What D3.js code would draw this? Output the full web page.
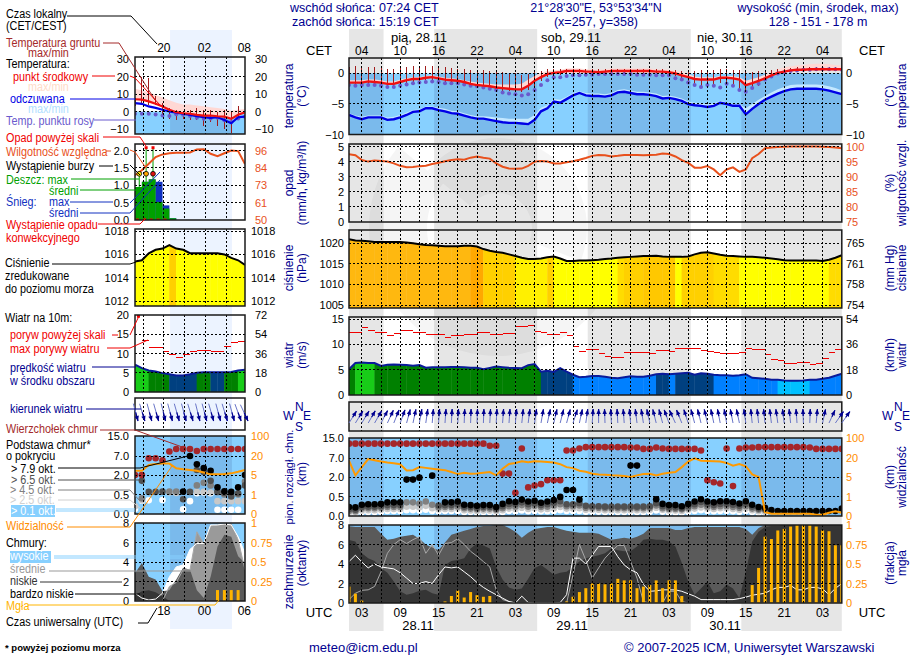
<!DOCTYPE html>
<html><head><meta charset="utf-8">
<script src="https://cdnjs.cloudflare.com/ajax/libs/d3/7.8.5/d3.min.js"></script>
<style>html,body{margin:0;background:#fff}svg{display:block}text{font-family:"Liberation Sans",Arial,sans-serif}</style>
</head><body><svg id="c" width="910" height="660"></svg>
<script>
// ===== meteogram hours (UTC hours counted from 00 on 28.11)
const hoursMain = d3.range(1,79);
const nightSpans = [[1,6.4],[14.3,30.4],[38.3,54.4],[62.3,78]];
const hourTicksMain = [3,9,15,21,27,33,39,45,51,57,63,69,75];
const cetLabels = ["04","10","16","22","04","10","16","22","04","10","16","22","04"];
const utcLabels = ["03","09","15","21","03","09","15","21","03","09","15","21","03"];
const gridHoursMain = d3.range(3,78,3);
const dayLabels = [["pią, 28.11",419],["sob, 29.11",571],["nie, 30.11",725]];
const utcDays = [["28.11",418],["29.11",572],["30.11",725]];

// ===== main series
const tempMid=[-1.5,-1.5,-1.5,-1.3,-1.4,-1.5,-1.7,-1.7,-1.4,-1.1,-.9,-.9,-.7,-.6,-.8,-1,-1.1,-1.2,-1.4,-1.7,-1.9,-2,-2.1,-2.3,-2.4,-2.5,-2.6,-2.6,-2,-1.2,-.6,-.1,.1,.2,.4,.4,.4,.3,.3,.2,.3,.4,.4,.4,.4,.4,.4,.4,.3,.3,.2,0,-.3,-.6,-.9,-1,-1,-1,-.7,-.7,-.8,-1,-1.9,-1.6,-1.2,-.8,-.3,.1,.3,.5,.6,.6,.7,.7,.7,.7,.7,.7];
const tempHi=[-1.1,-1.1,-1.1,-1,-1,-1.1,-1.3,-1.3,-1,-.8,-.6,-.6,-.4,-.3,-.5,-.7,-.8,-.9,-1.1,-1.3,-1.5,-1.6,-1.7,-1.8,-1.8,-1.8,-1.8,-1.7,-1,-.4,.1,.4,.5,.6,.8,.8,.8,.7,.7,.6,.7,.8,.8,.8,.8,.8,.8,.8,.7,.7,.6,.4,.2,-.1,-.5,-.6,-.6,-.6,-.4,-.4,-.4,-.6,-1.2,-.9,-.6,-.2,.3,.7,1,1.2,1.3,1.4,1.5,1.6,1.6,1.5,1.4,1.3];
const feel=[-6.8,-7.2,-7.5,-7.2,-7.2,-7.2,-7.6,-7.5,-7.2,-6.8,-6.3,-6.2,-5.7,-5.7,-6,-6.2,-6.5,-6.6,-6.9,-7.2,-7.4,-7.4,-7.6,-7.8,-8,-8.1,-8.1,-8.2,-8.3,-7.6,-6.2,-5.7,-4.6,-4.8,-4.2,-3.6,-3.2,-3.6,-3.7,-3.7,-3.8,-3.6,-3.1,-3,-3.2,-3.4,-3.4,-3.5,-3.7,-4.1,-4,-4.2,-4.5,-5,-5.2,-5.3,-5.5,-5.3,-4.8,-5,-5.3,-5.3,-6.7,-5.8,-5,-4.3,-3.8,-3.3,-2.9,-2.6,-2.5,-2.5,-2.5,-2.5,-2.6,-2.8,-3.1,-3.4];
const feelHi=[-6.5,-6.9,-7.1,-6.9,-6.9,-6.9,-7.2,-7.1,-6.8,-6.4,-6,-5.9,-5.4,-5.4,-5.6,-5.8,-6.1,-6.2,-6.5,-6.8,-7,-7,-7.1,-7.2,-7.3,-7.4,-7.4,-7.4,-7.4,-6.8,-5.6,-5.2,-4.2,-4.3,-3.8,-3.2,-2.9,-3.2,-3.3,-3.3,-3.4,-3.2,-2.7,-2.6,-2.8,-3,-3,-3.1,-3.3,-3.7,-3.6,-3.8,-4.1,-4.6,-4.8,-4.9,-5.1,-4.9,-4.5,-4.7,-5,-5,-5.7,-5,-4.3,-3.7,-3.1,-2.6,-2.2,-1.9,-1.8,-1.8,-1.8,-1.8,-1.9,-2.1,-2.4,-2.8];
const dew=[-1.9,-2,-1.9,-1.9,-1.9,-2,-2.2,-2.2,-2,-1.8,-1.6,-1.5,-1.4,-1.3,-1.4,-1.6,-1.6,-1.6,-1.8,-2,-2.1,-2.3,-2.5,-2.7,-3.1,-3.3,-3.4,-3.6,-3.4,-2.7,-1.9,-1.1,-.6,-.6,-.4,-.3,-.3,-.2,-.2,-.1,-.1,-.1,-.1,-.1,-.1,-.2,-.2,-.2,-.3,-.3,-.3,-.8,-1,-1.5,-1.9,-2.2,-1.9,-2,-2.3,-1.7,-2,-2.7,-3,-2.4,-1.7,-1,-.5,0,.2,.4,.5,.6,.6,.7,.7,.7,.7,.6];
const groundMax=[1.1,1.2,1.1,1.1,1,1,.8,.8,.9,1.1,1.2,1.1,1.2,1.2,1.1,1.1,.9,.8,.8,.6,.5,.5,.4,.3,.3,.1,0,-.3,-.1,.2,.4,.8,.7,.7,.7,.8,.8,.8,.8,.7,.8,.8,.8,.8,.8,.8,.8,.8,.7,.7,.6,.5,.4,.4,.4,.5,.6,.6,.7,.7,.6,.5,.2,.3,.4,.5,.6,.7,.8,.9,1,1,1,1,1,1,1,1];
const groundMin=[-1.9,-2,-2,-1.8,-1.8,-1.9,-2.1,-2.1,-1.9,-1.6,-1.4,-1.3,-1.1,-1,-1.2,-1.4,-1.5,-1.6,-1.8,-2.1,-2.3,-2.4,-2.5,-2.7,-2.8,-2.9,-3,-3.1,-2.7,-2,-1.3,-.6,-.3,-.2,0,0,0,0,0,0,0,0,0,0,0,0,0,0,0,-.1,-.2,-.4,-.8,-1.2,-1.7,-2,-1.9,-1.9,-1.5,-1.5,-1.9,-2.9,-3,-2.6,-2,-1.3,-.7,-.2,.1,.3,.4,.4,.5,.5,.5,.5,.5,.5];
const humidity=[97.4,97.1,95.5,95,95.4,95.2,95,94.4,93.6,93.1,93.2,93.5,93.6,94.2,94.6,95.1,95.5,95.8,95.6,96.3,96.7,96.3,96,94.4,93.3,92.7,92.6,92.7,93.6,95,95.2,95,94.4,94.4,94.8,95.1,95.6,96.2,96.9,97.2,97.1,96.7,96.9,97.2,97.2,97.2,97.1,97.2,97.3,97.7,97.5,96.7,95.5,94.6,93,93,93.5,92.4,90.5,92.4,93.1,91.6,92.4,96.1,97.5,99.4,99.7,99.8,99.9,100,100,100,100,100,99.9,99.8,99.7,99.4];
const pressure=[1021,1020.7,1020.6,1020.5,1020.3,1020.3,1020.3,1020.3,1020.3,1020.2,1020,1019.75,1019.6,1019.5,1019.4,1019.3,1019.3,1019.3,1019.4,1019.4,1019.2,1018.6,1018.2,1017.9,1017.7,1017.3,1016.9,1016.5,1016.2,1016.2,1016.3,1016.6,1016.8,1016.3,1015.7,1015.7,1015.8,1015.8,1015.9,1016,1016.2,1016.3,1016.5,1016.6,1016.7,1016.8,1016.9,1016.9,1017,1016.8,1016.7,1016.7,1016.7,1016.8,1017.3,1017.7,1017.8,1017.5,1017.2,1017,1016.9,1016.8,1016.7,1016.7,1016.6,1016.5,1016.3,1016.1,1015.9,1015.8,1015.8,1015.8,1015.8,1015.8,1015.7,1016,1016.5,1017.1];
const pressClass=[5,5,5,5,5,5,5,5,5,5,5,5,5,5,5,5,5,5,5,6,6,3,3,3,3,3,1,1,1,1,1,3,0,0,0,0,0,0,0,0,0,0,2,3,3,3,4,4,4,4,4,0,3,3,3,3,3,2,2,2,2,0,0,0,0,0,0,0,0,0,0,0,0,0,0,2,2,2];
const wind=[5.1,6.3,6.4,6.3,6.3,5.75,5.95,6,5.95,5.9,5.75,5.9,5.4,5.5,5.5,5.5,5.55,5.55,5.5,5.4,5.4,5.1,5.35,5.6,5.5,5.4,5.35,5.3,5.9,6.1,4.6,4.8,4.55,5.3,4.6,4,3.5,3.6,3.75,3.75,3.6,3.4,3.3,3.5,3.7,3.6,3.6,3.8,4.1,4.2,4.1,4.2,4.3,4.4,4,4.3,4.2,4,3.9,3.9,3.8,3.9,4.1,3.4,3.3,3.2,3,3,2.85,2.8,2.8,2.85,3,3,3.2,3.4,3.8,4.2];
const windClass=[1,2,2,2,1,1,1,1,1,1,1,1,1,1,1,1,1,1,1,1,1,1,1,1,1,1,1,1,1,1,0,0,0,0,0,3,3,3,3,3,3,3,3,3,3,3,3,3,0,0,3,0,0,0,0,0,0,3,3,3,3,3,3,3,3,3,3,4,4,4,4,4,3,3,3,3,3,3];
const gust=[12.4,12.4,13.4,12.7,12.4,12.4,11.8,12.2,12.7,12.7,12.4,12.4,12,12,12,11.4,11.8,11.8,12,12,12.4,12.4,11.9,11.9,12.2,12.2,13.6,13.6,13.8,12.6,12.4,11.9,11.9,12.4,11.7,9.5,8.5,8.9,8.9,8.1,7.6,7.5,7.5,8.3,8.3,8.3,8.3,8.1,8.7,8.7,8.5,9.25,9.25,9.1,9.1,8.8,8.5,8.3,8.1,8.1,8.2,8.3,9.25,8.9,8.9,7.9,7.1,6.8,6.3,6.3,6.5,6.5,6.1,6.3,7.3,8.3,8.9,8.9];
const windDir=[32,32,31,30,30,28,25,22,20,15,12,10,8,5,4,4,3,3,2,2,2,2,3,3,4,4,5,6,7,8,10,12,13,14,15,18,12,8,4,0,-2,-3,-3,-4,-5,-7,-9,-12,-14,-15,-20,-25,-22,-18,-15,-14,-13,-12,-11,-10,-11,-12,-8,-6,-6,-6,-7,-8,-7,-6,-4,-2,2,5,12,25,35,35];
const cloudTop=[12.75,12.75,12.75,12.75,12.75,12.75,12.75,12.75,12.75,12.75,12.75,12.75,12.75,12.75,12.75,12.75,12.75,12.75,12.75,12.75,12.75,12.75,11.9,11.9,2.9,2.9,.78,10.8,1.2,1.35,1.45,1.75,1.75,1.75,10,10,10.8,11.35,11.35,11.35,11.35,11.35,11.35,11.35,11.2,11.2,10.65,10.65,11.2,10.8,10.65,10.65,10.65,10.65,10.65,10,1.75,1.6,1.5,10.8,1.3,10.8,11.2,11.2,11.35,11.35,11.35,11.35,11.35,11.35,11.35,11.35,11.2,10.65,10.65,10.65,10.65,10.65];
const base79=[.23,.22,.29,.3,.3,.31,.35,.35,.35,1.8,1.8,1.95,null,2.35,null,.35,.35,.37,.29,.28,.26,.28,.28,.23,.31,.38,.36,.42,.37,.39,.34,.37,.41,.49,1,1,.42,null,null,null,null,null,null,null,5,5,null,null,.43,.31,.28,.28,.25,.31,.37,.43,.37,.35,.38,.38,.36,.32,.38,.29,.23,.21,.15,.13,.13,.13,.13,.13,.13,.13,.13,.13,.13,.19];
const base65=[.17,.16,.23,.24,.24,.25,.28,.28,.28,null,null,null,null,null,.27,.28,.28,.3,.24,.23,.21,.23,.23,.19,.25,.31,.3,.35,.3,.32,.28,.3,.34,.38,.3,.3,.33,.26,.25,.25,.24,.24,.24,.24,.24,.24,.24,.25,.33,.25,.22,.22,.2,.25,.3,.36,.3,.28,.31,.31,.29,.26,.31,.24,.19,.18,null,null,null,null,null,null,null,null,null,null,null,null];
const base45=[.13,.12,.19,.2,.2,.21,.23,.23,.23,.35,.35,.32,.37,.29,.22,.23,.23,.24,.2,.19,.17,.19,.19,.16,.2,.25,.24,.28,.24,.26,.23,.24,.27,.3,.25,.25,.27,.21,.21,.21,.2,.2,.2,.2,.2,.2,.2,.21,.27,.2,.18,.18,.17,.2,.25,.29,.24,.23,.25,.25,.23,.21,.25,.19,.16,.15,null,null,null,null,null,null,null,null,null,null,null,null];
const base25=[.09,.09,.14,.15,.15,.16,.18,.18,.18,.24,.24,.22,.26,.2,.17,.18,.18,.19,.15,.14,.13,.14,.14,.12,.15,.19,.18,.21,.18,.2,.17,.18,.2,.23,.19,.19,.2,.16,.16,.16,.15,.15,.15,.15,.15,.15,.15,.16,.21,.16,.14,.14,.13,.16,.19,.22,.19,.18,.2,.2,.18,.16,.19,.15,.12,.11,null,null,null,null,null,null,null,null,null,null,null,null];
const base01=[.05,.05,.1,.1,.1,.11,.13,.13,.13,.15,.15,.14,.16,.13,.12,.13,.13,.13,.1,.1,.09,.1,.1,.08,.1,.13,.12,.14,.12,.13,.12,.12,.13,.15,.13,.13,.13,.11,.11,.11,.1,.1,.1,.1,.1,.1,.1,.11,.14,.11,.09,.09,.09,.11,.13,.15,.13,.12,.13,.13,.12,.11,.13,.1,.08,.08,null,null,null,null,null,null,null,null,null,null,null,null];
const visibility=[17.9,6.3,12.8,19.2,18.2,17.2,16.4,15.9,15.1,10.2,10.4,12.8,12.2,11.5,10.9,10.4,8.9,7.3,8.4,7.6,7.8,8.4,8.9,6.3,11.5,15.3,16.1,17.4,16.6,17.4,17.2,16.9,16.4,15.1,12.8,12,9.9,9.1,7.6,7,6.8,6.3,6.1,5.8,5,6.3,7.3,7.6,6.3,7.6,8.4,8.9,12.8,17.2,19.7,17.9,17.7,17.4,17.2,16.1,14,15.3,13.5,7,5,.2,.12,.12,.12,.12,.12,.12,.12,.07,.07,.17,.24,.17];
const cloudHigh=[4.25,4.9,4.2,3.6,4,3.7,3.6,3.5,3.1,2.55,2,2,2.2,2,2.9,3.7,3.6,3.7,3.2,2.7,2.1,1.6,1.2,.85,.5,.15,0,.7,.05,0,0,0,0,.05,.85,4.6,4.6,4,4.9,5.8,5.8,5.8,4.75,3.9,3.4,3.1,1.9,1.2,1.25,1.35,1.35,1.35,1.2,.95,.7,.35,.35,.35,.35,.35,.35,.45,.6,.8,.9,1,1.35,1.6,1.6,1.8,1.35,1.35,1.6,1.6,1.45,.85,1.5,2];
const cloudMid=[.35,1,1.3,1.35,1.7,3.2,5.1,6,6.5,6.1,6.5,6.8,5.1,6,4.9,6.1,6.2,6.6,6,5.3,4.8,4.25,3.7,1.35,.35,.15,0,0,0,0,0,0,0,0,0,2.9,6,4.4,2.55,3.6,4.6,5.3,5.9,5.9,4.25,2.55,.15,0,0,0,1.2,1.2,.15,0,0,0,0,0,0,0,0,0,0,0,0,0,0,0,0,0,0,0,0,0,0,0,0,0];
const cloudLow=[7.86,7.8,7.8,7.8,7.8,7.1,6.5,6.6,6.8,6.9,7,6.6,6,5.7,5.4,6.2,7,7.2,7.4,7.6,7.8,7.9,7.9,8,8,7.7,7.3,6.7,7.2,7.6,7.7,7.8,7.8,7.6,7.4,7.3,7.2,7.2,7.2,7.1,6.8,6.5,6.6,6.7,6.6,6.8,7.1,7.7,7.7,7.7,7.7,7.5,7.5,7.7,7.8,7.8,7.8,7.8,7.8,7.8,7.8,7.8,7.6,7,7.7,8,8,8,8,8,8,8,8,8,8,8,8,8];
const cloudVeryLow=[6.46,6.3,5.1,4.6,4.3,3.6,3.1,2.2,1.2,.85,1,1.25,1.35,1,.85,3.9,4.3,4.4,4.6,5.6,6.1,5.9,5.6,3.7,2.4,1.6,1.35,1.5,2.5,3.6,3.9,3.4,2.9,3.1,3.2,3.7,4.25,4.6,4.75,4.9,5.1,5.6,5.4,5.3,5.3,5.8,6.5,6.6,6.5,6.5,6.3,5.8,4.1,2.2,.85,1.5,2.2,1,1.2,1.9,1.5,.5,3.2,6.3,7.3,7.8,7.9,7.9,8,8,8,8,8,8,8,8,8,8];
const fog=[.21,.12,.03,0,0,0,0,0,0,0,0,0,0,0,0,.02,.09,.16,.07,.14,.1,.08,.09,0,0,0,0,0,0,0,0,0,0,0,.02,.08,.14,.19,.25,.25,.24,.25,.31,.29,.29,.19,.21,.23,.29,.19,.29,.29,.09,0,0,0,0,0,0,0,0,0,0,.23,.45,.85,.82,.93,.95,.98,1,1,1,.98,.93,.92,.74,.74];

// ===== legend (left) mini series
const hoursLeg = d3.range(0,17);
const legGrid = [1.17,4.2,7.2,10.25,13.3];
const legLocal = [["20",4.2],["02",10.1],["08",15.9]];
const legUtc = [["18",4.2],["00",10.1],["06",15.9]];
const tempMidL=[7,6.8,5.8,4.4,2.9,1,-.4,-1,-1.3,-1.9,-2.3,-2.3,-2.7,-2.9,-4.2,-1.9,-.4];
const tempHiL=[13,12,11,9.5,8,6.5,5,4,4,3.5,3,2.5,2,1.5,.5,1,1.5];
const feelL=[4.8,4.4,2.9,2.1,1,0,-.6,-1.3,-1.9,-2.7,-3.3,-3.6,-3.3,-4.8,-6.7,-3.3,-2.9];
const dewL=[-1.3,-1.3,-1.3,-1.7,-2.3,-2.5,-1.5,-1.8,-2.5,-3.5,-4.2,-4,-3.5,-5,-6,-4,-3];
const groundMaxL=[8,20,19,9,5,2,1,0,1,2,1,1,0,1,0,3,3];
const groundMinL=[3,5,4,4,-2,-4,-5,-4,-5,-5,-8,-6,-8,-10,-12,-5,-3];
const humidityL=[79.6,82.9,87.2,91.6,93.4,94.2,94.5,94.5,94.7,96.7,96.9,93.8,92.3,94.2,96,95.6,87];
const rainL=[.95,1.1,1.17,.52,.33,.05,0,0,0,0,0,0,0,0,0,0,0];
const snowL=[0,0,0,1.1,.42,0,0,0,0,0,0,0,0,0,0,0,0];
const rainPeakL=[1.29,2.08,2.08];
const stormL=[1.33,1.33,1.33];
const stormColors=["#ffe600","#ffa500","#e01010"];
const convectiveL=[1,1,1,1,1,0,0,0,0,0,0,0,0,0,0,0];
const pressureL=[1015.4,1015.5,1016.1,1016.4,1016.5,1016.8,1016.5,1016.4,1016.1,1016.1,1016.1,1016.1,1016.1,1016,1015.7,1015.5,1015.1];
const pressClassL=[0,0,0,0,0,3,0,0,0,0,0,0,0,0,0,0,0];
const windL=[7.1,6.2,5.6,5.3,4.9,4.6,4.3,4.3,4.6,5,5.1,5.1,5.1,5.1,5.2,5.6,5.8];
const windClassL=[2,2,1,1,1,0,0,0,0,1,1,0,0,1,1,2,2];
const gustL=[19.8,13.5,11.6,11.6,10.5,9.7,8.9,9.8,10.5,10.9,10.9,10.6,10.6,11.7,12.8,13,13];
const windDirL=[165,163,165,164,166,165,164,165,163,166,165,164,165,163,165,160,155];
const cloudTopL=[2,2,6.4,6.4,5.9,8.8,9.8,9.8,9.8,9,9.8,9.8,9.8,9.8,9.8,9.8,9.8];
const base79L=[null,null,null,null,null,null,null,.72,7,4.8,3.8,3.1,1.05,.75,.7,1.05,2];
const base65L=[null,1.55,.7,.7,.72,null,null,.38,.7,3.3,2.8,1.55,.72,.62,.45,.6,1.2];
const base45L=[null,.4,null,null,null,.72,.72,null,null,1.2,1.4,1.2,.68,.5,.5,.5,1.5];
const base25L=[.2,.35,null,null,null,.65,.62,null,null,.7,.7,.65,.33,.33,.33,.33,.33];
const base01L=[.13,.34,.35,null,.36,null,null,.12,.33,.6,.65,.6,.11,.11,.11,.11,null];
const visibilityL=[8.4,8.4,12.9,13.7,14,14,10.3,9.5,9,8.4,7,5.5,5.5,5.7,6.3,7.5,9];
const cloudHighL=[.8,.3,.1,.2,.8,2.5,3.5,3.7,5.3,5.9,5.9,7.8,7.8,7.9,7.8,6.6,4.9];
const cloudMidL=[0,0,0,0,0,1.5,1.9,3.2,3.2,7.1,5.9,7.7,7.8,7.9,7.9,6.3,3.2];
const cloudLowL=[2.85,3.9,2.5,2.2,1,1.1,2.2,3.4,3.2,1.1,.3,2.5,5.6,6.8,6.6,4.6,3.9];
const cloudVeryLowL=[.6,1,1.1,.9,.5,0,0,0,0,0,0,0,0,0,0,0,0];
const fogL=[0,0,0,0,0,0,0,0,0,0,0,0,.14,.14,.14,.14,0];

// ===== tick label lists
const tempTicksM=[0,-5,-10], tempTicksL=[30,20,10,0,-10];
const rainTicksM=[0,1,2,3,4,5], rhTicksM=[100,95,90,85,80,75];
const rainTicksL=["0.0","0.5","1.0","1.5","2.0"], rhTicksL=[[96,2],[84,1.5],[73,1],[61,.5],[50,0]];
const pressTicksM=[1020,1015,1010,1005], mmHgTicks=[[765,1020],[761,1015],[758,1010],[754,1005]];
const pressTicksL=[1018,1016,1014,1012];
const windTicksM=[0,5,10,15], kmhTicksM=[[54,15],[36,10],[18,5],[0,0]];
const windTicksL=[0,5,10,15,20], kmhTicksL=[[72,20],[54,15],[36,10],[18,5],[0,0]];
const heightTicks=[0,.5,2,7,15], visTicks=[0,1,5,20,100];
const oktaTicksM=[0,2,4,6,8], fogTicks=[0,.25,.5,.75,1];

// ===== palettes
const NAVY="#000090", ORANGE="#ff8c00", RH="#e8501c", BROWN="#a52a2a";
const DAYBLUE="#87d0ff", NIGHTBLUE="#7abaec";
const pressColors=["#ffff00","#fff000","#ffdc00","#ffd000","#ffc800","#ffb80f","#ffa800"];
const windColors=["#004080","#008000","#18cc18","#0080ff","#00c0ff"];
const baseColors=["#000000","#505050","#808080","#c8c8c8","#ffffff"];

const svg=d3.select("#c");
let clipId=0;
const bg=svg.append("g");

// shaded background bands
const xM=d3.scaleLinear().domain([1,78]).range([349,841.8]);
const xL=d3.scaleLinear().domain([0,16]).range([135,245]);
nightSpans.forEach(s=>bg.append("rect").attr("x",xM(s[0])).attr("y",29).attr("width",xM(s[1])-xM(s[0])).attr("height",602).attr("fill","#e6e6e6"));
bg.append("rect").attr("x",xL(5.1)).attr("y",30).attr("width",xL(14.1)-xL(5.1)).attr("height",599).attr("fill","#ecf3ff");
// faint logo watermark
const arcGen=d3.arc();
bg.append("path").attr("transform","translate(497,228)").attr("fill","#000").attr("opacity",.04)
  .attr("d",arcGen({innerRadius:70,outerRadius:128,startAngle:Math.PI*.72,endAngle:Math.PI*1.72}));
bg.append("path").attr("transform","translate(497,228)").attr("fill","#000").attr("opacity",.04)
  .attr("d",arcGen({innerRadius:35,outerRadius:90,startAngle:-Math.PI*.28,endAngle:Math.PI*.62}));

function panel(x,top,bottom){
  const id="p"+(clipId++),x0=x.range()[0],x1=x.range()[1];
  svg.append("clipPath").attr("id",id).append("rect").attr("x",x0).attr("y",top).attr("width",x1-x0).attr("height",bottom-top);
  return {g:svg.append("g").attr("clip-path",`url(#${id})`),top,bottom,x0,x1};
}
function frame(p,x,gridX,y,gridY){
  const g=svg.append("g").attr("fill","none");
  const dash=g.append("g").attr("stroke","#000").attr("stroke-width",1).attr("stroke-dasharray","2,2").attr("shape-rendering","crispEdges");
  gridX.forEach(v=>dash.append("line").attr("x1",x(v)).attr("x2",x(v)).attr("y1",p.top).attr("y2",p.bottom));
  if(y)gridY.forEach(v=>dash.append("line").attr("x1",p.x0).attr("x2",p.x1).attr("y1",y(v)).attr("y2",y(v)));
  g.append("rect").attr("x",p.x0).attr("y",p.top).attr("width",p.x1-p.x0).attr("height",p.bottom-p.top).attr("stroke","#1a1a1a").attr("stroke-width",1.5);
}
function axis(scale,values,fmt,side,x,color,size){
  const gen=(side==="l"?d3.axisLeft(scale):d3.axisRight(scale)).tickValues(values).tickSize(0).tickPadding(0).tickFormat(fmt);
  const g=svg.append("g").attr("transform",`translate(${x},0)`).call(gen);
  g.select(".domain").remove();
  g.selectAll("text").attr("fill",color||"#000").attr("font-size",size||11).attr("font-family",'"Liberation Sans",Arial,sans-serif');
}
function pairAxis(scale,pairs,side,x,color,size){
  const m=new Map(pairs.map(p=>[p[1],p[0]]));
  axis(scale,pairs.map(p=>p[1]),v=>m.get(v),side,x,color,size);
}
const line=(x,y,c)=>d3.line().defined(d=>d[1]!=null).x(d=>x(d[0])).y(d=>y(d[1])).curve(c||d3.curveLinear);
const zip=(h,a)=>h.map((t,i)=>[t,a[i]]);

function shadeBlue(p,x,y0,nights){
  p.g.append("rect").attr("x",p.x0).attr("y",y0).attr("width",p.x1-p.x0).attr("height",p.bottom-y0).attr("fill",DAYBLUE);
  nights.forEach(s=>p.g.append("rect").attr("x",x(s[0])).attr("y",y0).attr("width",x(s[1])-x(s[0])).attr("height",p.bottom-y0).attr("fill",NIGHTBLUE));
}
function tempPanel(x,hours,top,bottom,y,grid,gridY,nights,d,lw){
  const p=panel(x,top,bottom);
  shadeBlue(p,x,y(0),nights);
  const band=(lo,hi,c)=>p.g.append("path").attr("fill",c).attr("d",d3.area().x((_,i)=>x(hours[i])).y0((_,i)=>y(lo[i])).y1((_,i)=>y(hi[i]))(hours));
  band(d.mid,d.hi,"#ffd8d4");
  if(d.feelHi)band(d.feel,d.feelHi,"#c4e8ff");
  p.g.selectAll(null).data(hours).join("line").attr("x1",t=>x(t)).attr("x2",t=>x(t)).attr("shape-rendering","crispEdges")
    .attr("y1",(t,i)=>y(d.gmax[i])).attr("y2",(t,i)=>y(d.gmin[i])).attr("stroke","#a01c1c").attr("stroke-width",1);
  p.g.selectAll(null).data(zip(hours,d.dew)).join("circle").attr("cx",e=>x(e[0])).attr("cy",e=>y(e[1])).attr("r",2).attr("fill","#6a5acd");
  p.g.append("path").attr("fill","none").attr("stroke","#0000e6").attr("stroke-width",lw).attr("d",line(x,y)(zip(hours,d.feel)));
  p.g.append("path").attr("fill","none").attr("stroke","#f01010").attr("stroke-width",lw).attr("d",line(x,y)(zip(hours,d.mid)));
  frame(p,x,grid,y,gridY);
}
function classFill(p,x,hours,y,vals,cls,colors,lineW,lineCol){
  const id="f"+(clipId++);
  svg.append("clipPath").attr("id",id).append("path").attr("d",d3.area().x(d=>x(d[0])).y0(p.bottom).y1(d=>y(d[1]))(zip(hours,vals)));
  const g=p.g.append("g").attr("clip-path",`url(#${id})`);
  g.selectAll(null).data(hours).join("rect").attr("x",t=>x(t)-.2).attr("y",p.top).attr("width",t=>x(t+1)-x(t)+.4).attr("height",p.bottom-p.top).attr("fill",(t,i)=>colors[cls[i]]);
  p.g.append("path").attr("fill","none").attr("stroke",lineCol).attr("stroke-width",lineW).attr("d",line(x,y)(zip(hours,vals)));
}
function gustMarks(p,x,hours,y,vals){
  p.g.selectAll(null).data(hours).join("line").attr("shape-rendering","crispEdges").attr("x1",t=>x(t)).attr("x2",t=>x(t+1)).attr("y1",(t,i)=>y(vals[i])).attr("y2",(t,i)=>y(vals[i])).attr("stroke","#f00000").attr("stroke-width",1);
}
function arrows(g,x,hours,dirs,baseY,len,anchorHead){
  g=g.append("g");
  hours.forEach((t,i)=>{
    const a=dirs[i]*Math.PI/180, dx=Math.sin(a)*len, dy=-Math.cos(a)*len;
    const hx=anchorHead?x(t)+3:x(t)+dx, hy=anchorHead?baseY:baseY+dy;
    const tx=hx-dx, ty=hy-dy;
    g.append("line").attr("x1",tx).attr("y1",ty).attr("x2",hx).attr("y2",hy).attr("stroke","#6a76c8").attr("stroke-width",1);
    g.append("line").attr("x1",(tx+hx)/2).attr("y1",(ty+hy)/2).attr("x2",hx).attr("y2",hy).attr("stroke",NAVY).attr("stroke-width",1.2);
    const ux=dx/len,uy=dy/len;
    g.append("path").attr("fill",NAVY).attr("d",`M${hx},${hy}L${hx-ux*5-uy*2.2},${hy-uy*5+ux*2.2}L${hx-ux*5+uy*2.2},${hy-uy*5-ux*2.2}Z`);
  });
}
function cloudPanel(x,hours,top,bottom,y,yVis,grid,nights,d,lw){
  const p=panel(x,top,bottom);
  shadeBlue(p,x,top,nights);
  [[d.b01,4],[d.b25,3],[d.b45,2],[d.b65,1],[d.b79,0]].forEach(([a,c])=>{
    p.g.selectAll(null).data(zip(hours,a).filter(e=>e[1]!=null)).join("circle").attr("cx",e=>x(e[0])).attr("cy",e=>y(e[1])).attr("r",3.3).attr("fill",baseColors[c]);
  });
  p.g.selectAll(null).data(zip(hours,d.top)).join("circle").attr("cx",e=>x(e[0])).attr("cy",e=>y(e[1])).attr("r",3.3).attr("fill","#a5262a");
  p.g.append("path").attr("fill","none").attr("stroke","#ff9a00").attr("stroke-width",lw).attr("d",line(x,yVis)(zip(hours,d.vis)));
  frame(p,x,grid,y,[.5,2,7]);
}
function coverPanel(x,hours,top,bottom,y,yFog,grid,nights,d,lw){
  const p=panel(x,top,bottom);
  shadeBlue(p,x,top,nights);
  const a=(vals,c)=>p.g.append("path").attr("fill",c).attr("d",d3.area().x(e=>x(e[0])).y0(bottom).y1(e=>y(e[1]))(zip(hours,vals)));
  a(d.high,"#ffffff");a(d.mid,"#9a9a9a");a(d.low,"#5a5a5a");a(d.vlow,"#353535");
  const l=(vals,c)=>p.g.append("path").attr("fill","none").attr("stroke",c).attr("stroke-width",lw).attr("d",line(x,y)(zip(hours,vals)));
  l(d.mid,"#a8a8a8");l(d.high,"#ffffff");
  p.g.selectAll(null).data(zip(hours,d.fog).filter(e=>e[1]>0)).join("rect").attr("x",e=>x(e[0])-1.5).attr("width",3).attr("y",e=>yFog(e[1])).attr("height",e=>bottom-yFog(e[1])).attr("fill","#ffb400");
  frame(p,x,grid,y,[2,4,6]);
}

// ======= MAIN CHARTS =======
const yTemp=d3.scaleLinear().domain([-10,2.6]).range([134.5,57.6]);
tempPanel(xM,hoursMain,58,134.5,yTemp,gridHoursMain,[0,-5],nightSpans,{mid:tempMid,hi:tempHi,feel,feelHi,dew,gmax:groundMax,gmin:groundMin},2.4);
axis(yTemp,tempTicksM,d3.format("d"),"l",344);
axis(yTemp,tempTicksM,d3.format("d"),"r",846);

const yRain=d3.scaleLinear().domain([0,5]).range([222,146.5]);
const yRH=d3.scaleLinear().domain([75,100]).range([222,146.5]);
{const p=panel(xM,144,222);
 p.g.append("path").attr("fill","none").attr("stroke",RH).attr("stroke-width",2).attr("d",line(xM,yRH)(zip(hoursMain,humidity)));
 frame(p,xM,gridHoursMain,yRain,[1,2,3,4,5]);}
axis(yRain,rainTicksM,d3.format("d"),"l",344);
axis(yRH,rhTicksM,d3.format("d"),"r",846,RH);

const yP=d3.scaleLinear().domain([1005,1020]).range([305,243.3]);
{const p=panel(xM,230,308);
 classFill(p,xM,hoursMain,yP,pressure,pressClass,pressColors,2,"#000");
 frame(p,xM,gridHoursMain,yP,pressTicksM);}
axis(yP,pressTicksM,d3.format("d"),"l",344);
pairAxis(yP,mmHgTicks,"r",846);

const yW=d3.scaleLinear().domain([0,15]).range([395,319]);
{const p=panel(xM,317,395);
 classFill(p,xM,hoursMain,yW,wind,windClass,windColors,2,"#0a1a9a");
 gustMarks(p,xM,hoursMain,yW,gust);
 frame(p,xM,gridHoursMain,yW,[5,10,15]);}
axis(yW,windTicksM,d3.format("d"),"l",344);
pairAxis(yW,kmhTicksM,"r",846);

{const p=panel(xM,402,431);
 frame(p,xM,gridHoursMain);
 arrows(svg,xM,hoursMain,windDir,423,14,false);}

const yC=d3.scaleLinear().domain(heightTicks).range([516,496.5,477,458,438]);
const yV=d3.scaleLinear().domain(visTicks).range([516,496.5,477,458,438]);
cloudPanel(xM,hoursMain,438,516,yC,yV,gridHoursMain,nightSpans,{b79:base79,b65:base65,b45:base45,b25:base25,b01:base01,top:cloudTop,vis:visibility},2);
axis(yC,heightTicks,d3.format(".1f"),"l",344);
axis(yV,visTicks,d3.format("d"),"r",846,ORANGE);

const yO=d3.scaleLinear().domain([0,8]).range([603,525]);
const yF=d3.scaleLinear().domain([0,1]).range([603,525]);
coverPanel(xM,hoursMain,525,603,yO,yF,gridHoursMain,nightSpans,{high:cloudHigh,mid:cloudMid,low:cloudLow,vlow:cloudVeryLow,fog},1);
axis(yO,oktaTicksM,d3.format("d"),"l",344);
axis(yF,fogTicks,d3.format("~g"),"r",846,ORANGE);

// ======= LEGEND CHARTS =======
const nightL=[[5.1,14.1]];
const yTempL=d3.scaleLinear().domain([-10,30]).range([129,59]);
tempPanel(xL,hoursLeg,57,134,yTempL,legGrid,[20,10,0],nightL,{mid:tempMidL,hi:tempHiL,feel:feelL,dew:dewL,gmax:groundMaxL,gmin:groundMinL},2.2);
axis(yTempL,tempTicksL,d3.format("d"),"l",129);
axis(yTempL,tempTicksL,d3.format("d"),"r",255);

const yRainL=d3.scaleLinear().domain([0,2]).range([220,150.5]);
const yRHL=d3.scaleLinear().domain([50,96]).range([220,150.5]);
{const p=panel(xL,144,220);
 p.g.selectAll(null).data(zip(hoursLeg,rainL).map((e,i)=>[e[0],Math.max(e[1],snowL[i])]).filter(e=>e[1]>0)).join("rect").attr("x",e=>xL(e[0])).attr("width",e=>xL(e[0]+1)-xL(e[0])).attr("y",e=>yRainL(e[1])).attr("height",e=>220-yRainL(e[1])).attr("fill","#1030c0");
 p.g.selectAll(null).data(zip(hoursLeg,rainL).filter(e=>e[1]>0)).join("rect").attr("x",e=>xL(e[0])).attr("width",e=>xL(e[0]+1)-xL(e[0])).attr("y",e=>yRainL(e[1])).attr("height",e=>220-yRainL(e[1])).attr("fill","#00a000");
 p.g.selectAll(null).data(rainPeakL).join("line").attr("x1",(v,i)=>xL(i+.62)).attr("x2",(v,i)=>xL(i+.62)).attr("y1",(v,i)=>yRainL(rainL[i])).attr("y2",v=>yRainL(v)).attr("stroke","#00a000");
 p.g.selectAll(null).data(rainPeakL.filter(v=>v>2)).join("rect").attr("x",(v,i)=>xL(i+1.62)-1.5).attr("y",v=>yRainL(v)-1.5).attr("width",3).attr("height",3).attr("fill","#f00000");
 p.g.selectAll(null).data(convectiveL).join("rect").attr("x",(v,i)=>xL(i)+1).attr("y",218.5).attr("width",v=>v?3:0).attr("height",1.5).attr("fill","#f00000");
 p.g.append("path").attr("fill","none").attr("stroke",RH).attr("stroke-width",2).attr("d",line(xL,yRHL)(zip(hoursLeg,humidityL)));
 p.g.selectAll(null).data(stormL).join("circle").attr("cx",(v,i)=>xL(i+.62)).attr("cy",v=>yRainL(v)).attr("r",2.4).attr("fill",(v,i)=>stormColors[i]).attr("stroke","#000").attr("stroke-width",.8);
 frame(p,xL,legGrid,yRainL,[.5,1,1.5,2]);}
axis(yRainL,rainTicksL.map(Number),d3.format(".1f"),"l",129);
pairAxis(yRainL,rhTicksL,"r",255,RH);

const yPL=d3.scaleLinear().domain([1012,1018]).range([301.3,231]);
{const p=panel(xL,229,306);
 classFill(p,xL,hoursLeg,yPL,pressureL,pressClassL,pressColors,2,"#000");
 frame(p,xL,legGrid,yPL,pressTicksL);}
axis(yPL,pressTicksL,d3.format("d"),"l",129);
axis(yPL,pressTicksL,d3.format("d"),"r",251);

const yWL=d3.scaleLinear().domain([0,20]).range([392,315]);
{const p=panel(xL,315,392);
 classFill(p,xL,hoursLeg,yWL,windL,windClassL,windColors,2,"#0a1a9a");
 gustMarks(p,xL,hoursLeg.slice(1),yWL,gustL.slice(1));
 p.g.append("rect").attr("x",xL(.5)-1.5).attr("y",yWL(gustL[0])-1).attr("width",3).attr("height",3).attr("fill","#f00000");
 frame(p,xL,legGrid,yWL,[5,10,15]);}
axis(yWL,windTicksL,d3.format("d"),"l",129);
pairAxis(yWL,kmhTicksL,"r",255);

{const p=panel(xL,398,430);
 frame(p,xL,legGrid);
 arrows(svg,xL,hoursLeg,windDirL,421,18,true);}

const yCL=d3.scaleLinear().domain(heightTicks).range([514,494.5,475,456,436]);
const yVL=d3.scaleLinear().domain(visTicks).range([514,494.5,475,456,436]);
cloudPanel(xL,hoursLeg,436,514,yCL,yVL,legGrid,nightL,{b79:base79L,b65:base65L,b45:base45L,b25:base25L,b01:base01L,top:cloudTopL,vis:visibilityL},2);
axis(yCL,heightTicks,d3.format(".1f"),"l",129);
axis(yVL,visTicks,d3.format("d"),"r",251,ORANGE);

const yOL=d3.scaleLinear().domain([0,8]).range([601,523]);
const yFL=d3.scaleLinear().domain([0,1]).range([601,523]);
coverPanel(xL,hoursLeg,523,601,yOL,yFL,legGrid,nightL,{high:cloudHighL,mid:cloudMidL,low:cloudLowL,vlow:cloudVeryLowL,fog:fogL},1);
axis(yOL,oktaTicksM,d3.format("d"),"l",129);
axis(yFL,fogTicks,d3.format("~g"),"r",251,ORANGE);

// ======= TEXT =======
function T(s,x,y,o={}){
  const t=svg.append("text").attr("x",x).attr("y",y).text(s).attr("font-size",o.size||12.5).attr("fill",o.c||"#000");
  if(o.a)t.attr("text-anchor",o.a);
  if(o.w)t.attr("font-weight",o.w);
  if(o.rot)t.attr("transform",`rotate(-90 ${x} ${y})`).attr("text-anchor","middle");
  if(o.squeeze)t.attr("textLength",t.node().getComputedTextLength()*o.squeeze).attr("lengthAdjust","spacingAndGlyphs");
  return t;
}
// header
T("wschód słońca: 07:24 CET",290,12,{c:NAVY});
T("zachód słońca: 15:19 CET",292,26,{c:NAVY});
T("21°28'30\"E, 53°53'34\"N",596,12,{c:NAVY,a:"middle"});
T("(x=257,  y=358)",596,26,{c:NAVY,a:"middle"});
T("wysokość (min, środek, max)",818,12,{c:NAVY,a:"middle"});
T("128 - 151 - 178 m",818,26,{c:NAVY,a:"middle"});
dayLabels.forEach(d=>T(d[0],d[1],42,{a:"middle",size:13}));
T("CET",319,55,{a:"middle",size:13});T("CET",872,55,{a:"middle",size:13});
T("UTC",319,617,{a:"middle",size:13});T("UTC",872,617,{a:"middle",size:13});
hourTicksMain.forEach((h,i)=>{T(cetLabels[i],xM(h),55,{a:"middle",size:12});T(utcLabels[i],xM(h),617,{a:"middle",size:12});});
utcDays.forEach(d=>T(d[0],d[1],630,{a:"middle",size:13}));
T("meteo@icm.edu.pl",309,652,{c:NAVY,size:13});
T("© 2007-2025 ICM, Uniwersytet Warszawski",624,652,{c:NAVY,size:13});
// rotated titles
const leftTitles=[["temperatura","(°C)",96,96],["opad","(mm/h, kg/m³/h)",183,183],["ciśnienie","(hPa)",268,268],["wiatr","(m/s)",355,355],["pion. rozciągł. chm.","(km)",477,474],["zachmurzenie","(oktanty)",572,563]];
leftTitles.forEach(d=>{T(d[0],293,d[2],{c:NAVY,rot:1,size:d[0].length>15?11:12});T(d[1],306,d[3],{c:NAVY,rot:1,size:12});});
const rightTitles=[["(°C)","temperatura",96],["(%)","wilgotność wzgl.",183],["(mm Hg)","ciśnienie",268],["(km/h)","wiatr",355],["(km)","widzialność",477],["(frakcja)","mgła",563]];
rightTitles.forEach(d=>{T(d[0],894,d[2],{c:NAVY,rot:1,size:12});T(d[1],906,d[2],{c:NAVY,rot:1,size:12});});
[[283,420,"W"],[295,411,"N"],[303,420,"E"],[295,431,"S"],[882,420,"W"],[894,411,"N"],[902,420,"E"],[894,431,"S"]].forEach(d=>T(d[2],d[0],d[1],{c:NAVY,size:12}));
// legend local/utc labels
legLocal.forEach(d=>T(d[0],xL(d[1]),52,{a:"middle",size:12}));
legUtc.forEach(d=>T(d[0],xL(d[1]),615,{a:"middle",size:12}));

// legend highlights
const hl=svg.append("g");
hl.append("rect").attr("x",11).attr("y",505).attr("width",44).attr("height",12).attr("fill",DAYBLUE);
hl.append("rect").attr("x",10).attr("y",551).attr("width",41).attr("height",12).attr("fill",DAYBLUE);

// leader lines
const leaders=[
 [[[67,16],[131,16],[157,44]],"#000"],
 [[[103,43],[119,43],[155,100]],BROWN],
 [[[92,76],[115,76]],"#f00000"],[[[130,76],[135,78],[160,105]],"#f00000"],
 [[[70,99],[135,99]],"#0000e6"],
 [[[94,120],[136,120]],"#6a5acd"],
 [[[103,137],[140,137],[146,146]],"#f00000"],
 [[[106,151],[111,151]],RH],[[[130,150],[135,152],[146,168]],RH],
 [[[99,166],[113,166]],"#000"],[[[130,165],[140,175]],"#000"],
 [[[71,179],[139,179]],"#00a000"],
 [[[80,190],[139,190]],"#00a000"],
 [[[70,202],[113,202]],"#1030c0"],[[[130,203],[160,172]],"#1030c0"],
 [[[80,213],[130,213],[160,180]],"#1030c0"],
 [[[98,224],[140,224],[146,218]],"#f00000"],
 [[[52,264],[130,264],[136,262]],"#000"],
 [[[112,335],[118,335]],"#f00000"],[[[130,335],[139,316]],"#f00000"],
 [[[107,348],[130,348],[148,340]],"#f00000"],
 [[[92,367],[136,367]],NAVY],
 [[[86,409],[141,409]],NAVY],
 [[[100,430],[135,430],[185,448]],BROWN],
 [[[58,468],[140,468],[192,455]],"#000"],
 [[[58,480],[143,480]],"#505050"],
 [[[58,490],[130,490],[140,501]],"#808080"],
 [[[58,500],[130,500],[140,508]],"#d0d0d0"],
 [[[56,509],[135,509]],DAYBLUE],[[[56,511],[135,511]],DAYBLUE],
 [[[67,527],[130,527],[172,466]],ORANGE],
 [[[54,556],[186,556]],DAYBLUE],[[[54,558],[186,558]],DAYBLUE],
 [[[49,571],[192,571]],"#999"],
 [[[40,582],[122,582]],"#333"],
 [[[75,594],[140,594]],"#000"],
 [[[28,605],[215,605],[219,600]],"#ffb400"],
 [[[138,623],[148,623],[157,608]],"#000"]
];
leaders.forEach(l=>svg.append("path").attr("fill","none").attr("stroke",l[1]).attr("d",d3.line()(l[0])));

// legend labels
const legendTexts=[
 ["Czas lokalny",6,18,"#000"],["(CET/CEST)",6,30,"#000"],
 ["Temperatura gruntu",6,47,BROWN],["max/min",28,57,BROWN],
 ["Temperatura:",6,68,"#000"],["punkt środkowy",13,81,"#f00000"],["max/min",28,91,"#ffdcc8"],
 ["odczuwana",10,103,"#0000e6"],["max/min",28,113,"#b0e0ff"],["Temp. punktu rosy",6,125,"#6a5acd"],
 ["Opad powyżej skali",6,142,"#f00000"],["Wilgotność względna",6,156,RH],["Wystąpienie burzy",6,170,"#000"],
 ["Deszcz: max",6,184,"#00a000"],["średni",49,195,"#00a000"],["Śnieg:",6,206,"#1030c0"],["max",49,206,"#1030c0"],["średni",49,217,"#1030c0"],
 ["Wystąpienie opadu",6,229,"#f00000"],["konwekcyjnego",6,242,"#f00000"],
 ["Ciśnienie",5,267,"#000"],["zredukowane",5,280,"#000"],["do poziomu morza",5,293,"#000"],
 ["Wiatr na 10m:",5,322,"#000"],["poryw powyżej skali",10,339,"#f00000"],["max porywy wiatru",10,353,"#f00000"],
 ["prędkość wiatru",10,372,NAVY],["w środku obszaru",10,385,NAVY],["kierunek wiatru",10,413,NAVY],
 ["Wierzchołek chmur",6,433,BROWN],["Podstawa chmur*",6,449,"#000"],["o pokryciu",6,460,"#000"],
 ["> 7.9 okt.",11,473,"#000"],["> 6.5 okt.",11,484,"#505050"],["> 4.5 okt.",10,494,"#808080"],["> 2.5 okt.",10,504,"#d0d0d0"],["> 0.1 okt.",11,515,"#fff"],
 ["Widzialność",6,530,ORANGE],["Chmury:",6,547,"#000"],["wysokie",10,560,"#fff"],["średnie",10,573,"#999"],["niskie",10,585,"#333"],["bardzo niskie",10,598,"#000"],["Mgła",6,610,"#ffb400"],
 ["Czas uniwersalny (UTC)",6,626,"#000"]
];
legendTexts.forEach(d=>T(d[0],d[1],d[2],{c:d[3],size:12,squeeze:.9}));
T("* powyżej poziomu morza",5,651,{size:9.5,w:"bold"});
</script></body></html>
